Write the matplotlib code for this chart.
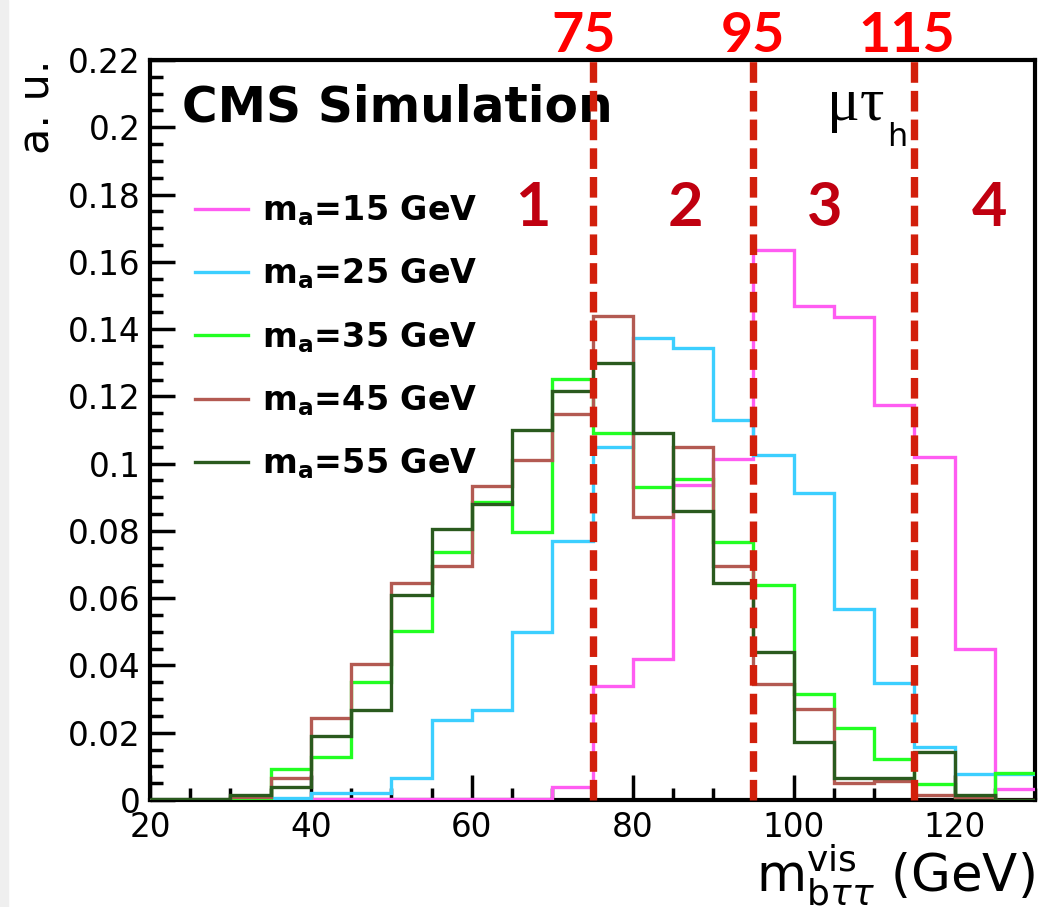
import numpy as np
import matplotlib
matplotlib.use('Agg')
import matplotlib.pyplot as plt
from matplotlib.lines import Line2D
from matplotlib.patches import Rectangle

# bin edges (GeV), 5 GeV bins from 20 to 130
edges = np.arange(20, 131, 5)

# normalised m_vis distributions, one value per bin
ma15 = [0, 0, 0, 0, 0.0004, 0.0004, 0.0004, 0.0004, 0.0004, 0.0004, 0.004,
        0.034, 0.042, 0.0935, 0.1015, 0.1635, 0.147, 0.1435, 0.1175, 0.102,
        0.045, 0.0033]
ma25 = [0, 0, 0, 0.0005, 0.002, 0.002, 0.0066, 0.0238, 0.0268, 0.0499, 0.077,
        0.105, 0.1373, 0.1343, 0.1131, 0.1027, 0.0913, 0.0568, 0.0347, 0.0159,
        0.0076, 0.0078]
ma35 = [0, 0, 0.0005, 0.0091, 0.0127, 0.0351, 0.0502, 0.0738, 0.0885, 0.0797,
        0.1252, 0.1092, 0.093, 0.0955, 0.0768, 0.064, 0.0314, 0.0215, 0.0121,
        0.0049, 0.001, 0.0081]
ma45 = [0, 0, 0.001, 0.0064, 0.0245, 0.0403, 0.0646, 0.0696, 0.0934, 0.1011,
        0.1148, 0.144, 0.0841, 0.105, 0.0695, 0.0346, 0.0272, 0.0051, 0.0056,
        0.0016, 0.001, 0]
ma55 = [0.0003, 0.0003, 0.0015, 0.004, 0.019, 0.0268, 0.061, 0.0807, 0.088,
        0.110, 0.1217, 0.130, 0.1092, 0.0858, 0.0644, 0.0441, 0.0171, 0.0066,
        0.0065, 0.0143, 0.0016, 0]

labels = ['15', '25', '35', '45', '55']
colors = ['#ff5cf2', '#3ccfff', '#22ff22', '#b35a52', '#2a5a1e']

cuts = [75, 95, 115]
cut_labels = ['75', '95', '115']
regions = ['1', '2', '3', '4']
region_x = [67.6, 86.5, 103.9, 124.4]

fig = plt.figure(figsize=(10.51, 9.07), dpi=100)
fig.patches.append(Rectangle((0, 0), 8 / 1051, 1, transform=fig.transFigure,
                             color='#efefef', zorder=0))
ax = fig.add_axes([150 / 1051, 1 - 800 / 907, 885 / 1051, 740 / 907])

for vals, c in zip([ma15, ma25, ma35, ma45, ma55], colors):
    ax.stairs(vals, edges, color=c, linewidth=2.4, baseline=None, zorder=3)

for xc in cuts:
    ax.axvline(xc, ymin=0, ymax=1.008, color='#d21f0b', linewidth=5.3,
               dashes=(2.8, 1.1), clip_on=False, zorder=5)

ax.set_xlim(20, 130)
ax.set_ylim(0, 0.22)
ax.set_xticks([20, 40, 60, 80, 100, 120])
ax.set_xticks(np.arange(20, 131, 5), minor=True)
ax.set_yticks(np.arange(0, 0.221, 0.02))
ax.set_yticks(np.arange(0, 0.221, 0.005), minor=True)
ax.set_yticklabels(['0', '0.02', '0.04', '0.06', '0.08', '0.1', '0.12', '0.14',
                    '0.16', '0.18', '0.2', '0.22'])
ax.tick_params(which='both', direction='in', top=False, right=False,
               width=2.5, labelsize=23.5)
ax.tick_params(which='major', length=18)
ax.tick_params(which='minor', length=9)
ax.tick_params(axis='y', pad=7)
ax.tick_params(axis='x', pad=8)
for s in ax.spines.values():
    s.set_linewidth(3)

ax.set_xlabel(r'$\mathrm{m}^{\mathrm{vis}}_{\mathrm{b}\tau\tau}$ (GeV)',
              fontsize=37, loc='right')
ax.xaxis.set_label_coords(1.0, -0.058)
ax.set_ylabel('a. u.', fontsize=31, loc='top')
ax.yaxis.set_label_coords(-0.104, 1.0)

ax.text(0.036, 0.936, 'CMS Simulation', transform=ax.transAxes,
        fontsize=35, fontweight='bold', va='center', ha='left')

ax.text(104.1, 0.919, 'μτ', transform=ax.get_xaxis_transform(),
        family='Liberation Serif', fontsize=44, va='baseline', ha='left')
ax.text(111.6, 0.884, 'h', transform=ax.get_xaxis_transform(),
        fontsize=23, va='baseline', ha='left')

for xc, lab in zip([73.9, 94.95, 114.1], cut_labels):
    ax.text(xc, 1.011, lab, transform=ax.get_xaxis_transform(),
            family='Lato', fontweight='bold', fontsize=40, color='#ff0000',
            ha='center', va='baseline')

for xr, lab in zip(region_x, regions):
    ax.text(xr, 0.176, lab, family='Lato', fontweight='bold', fontsize=44,
            color='#c00010', ha='center', va='center')

handles = [Line2D([], [], color=c, linewidth=2.4) for c in colors]
leg_labels = [r'$\mathbf{m}_\mathbf{a}$=%s GeV' % m for m in labels]
ax.legend(handles, leg_labels, loc='upper left',
          bbox_to_anchor=(0.0508, 0.82), frameon=False, borderpad=0,
          borderaxespad=0, handlelength=1.6, handletextpad=0.42,
          labelspacing=0.86, prop={'size': 24, 'weight': 'bold'})

fig.savefig('out.png', dpi=100)
